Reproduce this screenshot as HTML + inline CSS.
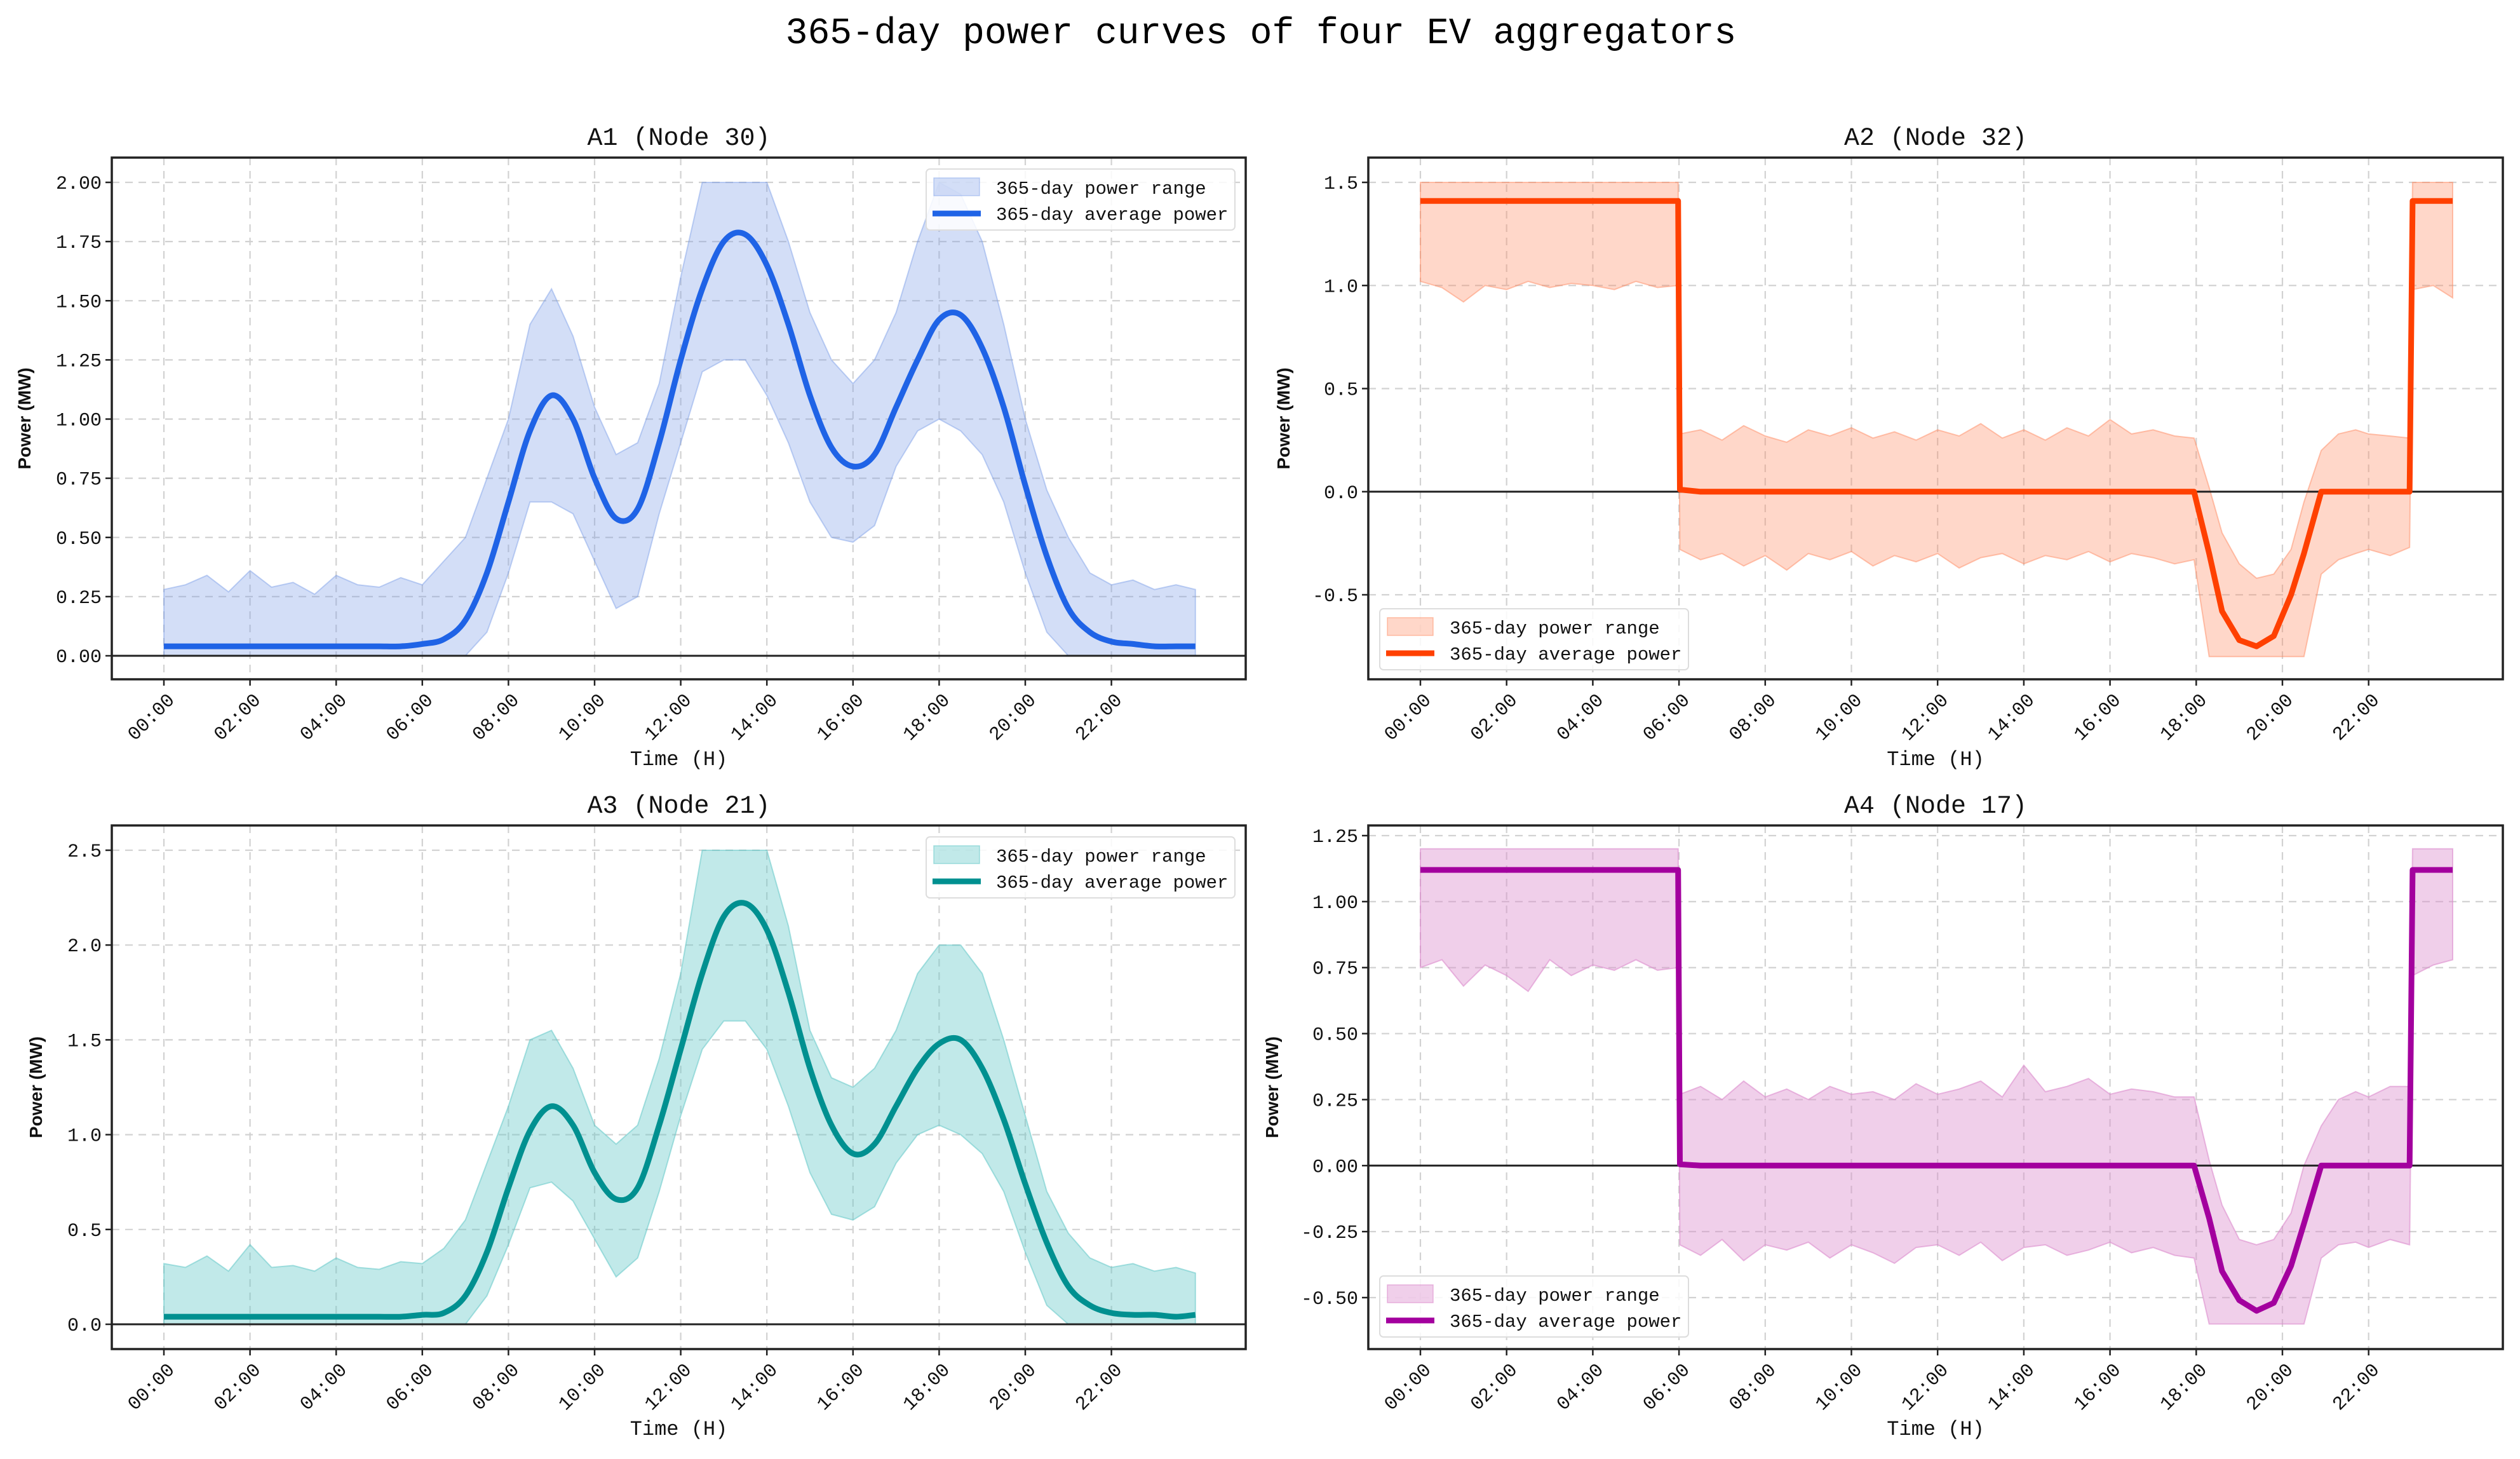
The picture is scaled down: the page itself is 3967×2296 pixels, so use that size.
<!DOCTYPE html>
<html><head><meta charset="utf-8"><style>
html,body{margin:0;padding:0;background:#fff;}
svg{display:block;}
</style></head><body>
<svg id="fig" width="3967" height="2296" viewBox="0 0 3967 2296" xmlns="http://www.w3.org/2000/svg">
<rect width="3967" height="2296" fill="#fff"/>
<text x="1985" y="68" text-anchor="middle" font-family="Liberation Mono, monospace" font-size="58" fill="#000">365-day power curves of four EV aggregators</text>
</svg>
<script>
// ---------- data ----------
const hoursSmooth = [0,0.5,1,1.5,2,2.5,3,3.5,4,4.5,5,5.5,6,6.5,7,7.5,8,8.5,9,9.5,10,10.5,11,11.5,12,12.5,13,13.5,14,14.5,15,15.5,16,16.5,17,17.5,18,18.5,19,19.5,20,20.5,21,21.5,22,22.5,23,23.5,23.95];
const a1Mean = [0.04,0.04,0.04,0.04,0.04,0.04,0.04,0.04,0.04,0.04,0.04,0.04,0.05,0.07,0.15,0.35,0.65,0.95,1.10,1.00,0.75,0.58,0.62,0.90,1.25,1.55,1.75,1.78,1.65,1.40,1.10,0.88,0.80,0.85,1.05,1.25,1.42,1.44,1.30,1.05,0.72,0.42,0.20,0.10,0.06,0.05,0.04,0.04,0.04];
const a1Upper = [0.28,0.30,0.34,0.27,0.36,0.29,0.31,0.26,0.34,0.30,0.29,0.33,0.30,0.40,0.50,0.75,1.00,1.40,1.55,1.35,1.05,0.85,0.90,1.15,1.60,2.00,2.00,2.00,2.00,1.75,1.45,1.25,1.15,1.25,1.45,1.75,2.00,1.95,1.75,1.40,1.00,0.70,0.50,0.35,0.30,0.32,0.28,0.30,0.28];
const a1Lower = [0,0,0,0,0,0,0,0,0,0,0,0,0,0,0,0.10,0.35,0.65,0.65,0.60,0.40,0.20,0.25,0.60,0.90,1.20,1.25,1.25,1.10,0.90,0.65,0.50,0.48,0.55,0.80,0.95,1.00,0.95,0.85,0.65,0.35,0.10,0,0,0,0,0,0,0];
const a3Mean = [0.04,0.04,0.04,0.04,0.04,0.04,0.04,0.04,0.04,0.04,0.04,0.04,0.05,0.06,0.15,0.38,0.72,1.02,1.15,1.05,0.80,0.66,0.72,1.05,1.45,1.85,2.15,2.22,2.08,1.75,1.35,1.05,0.90,0.95,1.15,1.35,1.48,1.50,1.35,1.08,0.74,0.43,0.20,0.10,0.06,0.05,0.05,0.04,0.05];
const a3Upper = [0.32,0.30,0.36,0.28,0.42,0.30,0.31,0.28,0.35,0.30,0.29,0.33,0.32,0.40,0.55,0.85,1.15,1.50,1.55,1.35,1.05,0.95,1.05,1.40,1.85,2.50,2.50,2.50,2.50,2.10,1.55,1.30,1.25,1.35,1.55,1.85,2.00,2.00,1.85,1.50,1.10,0.70,0.48,0.35,0.30,0.32,0.28,0.30,0.27];
const a3Lower = [0,0,0,0,0,0,0,0,0,0,0,0,0,0,0,0.15,0.42,0.72,0.75,0.65,0.45,0.25,0.35,0.70,1.10,1.45,1.60,1.60,1.45,1.15,0.80,0.58,0.55,0.62,0.85,1.00,1.05,1.00,0.90,0.70,0.38,0.10,0,0,0,0,0,0,0];

const hoursStep = [0,0.5,1,1.5,2,2.5,3,3.5,4,4.5,5,5.5,5.98,6.02,6.5,7,7.5,8,8.5,9,9.5,10,10.5,11,11.5,12,12.5,13,13.5,14,14.5,15,15.5,16,16.5,17,17.5,17.95,18.3,18.6,19,19.4,19.8,20.2,20.5,20.9,21.3,21.7,22,22.5,22.95,23.02,23.5,23.95];
const a2Mean = [1.41,1.41,1.41,1.41,1.41,1.41,1.41,1.41,1.41,1.41,1.41,1.41,1.41,0.01,0.0,0.0,0.0,0.0,0.0,0.0,0.0,0.0,0.0,0.0,0.0,0.0,0.0,0.0,0.0,0.0,0.0,0.0,0.0,0.0,0.0,0.0,0.0,0.0,-0.30,-0.58,-0.72,-0.75,-0.70,-0.50,-0.30,0.0,0.0,0.0,0.0,0.0,0.0,1.41,1.41,1.41];
const a2Upper = [1.5,1.5,1.5,1.5,1.5,1.5,1.5,1.5,1.5,1.5,1.5,1.5,1.5,0.28,0.30,0.25,0.32,0.27,0.24,0.30,0.27,0.31,0.26,0.29,0.25,0.30,0.27,0.33,0.26,0.30,0.25,0.31,0.27,0.35,0.28,0.30,0.27,0.26,0.02,-0.20,-0.35,-0.42,-0.40,-0.28,-0.05,0.20,0.28,0.30,0.28,0.27,0.26,1.5,1.5,1.5];
const a2Lower = [1.02,0.99,0.92,1.00,0.98,1.02,0.99,1.01,1.00,0.98,1.02,0.99,1.00,-0.28,-0.33,-0.30,-0.36,-0.31,-0.38,-0.30,-0.33,-0.29,-0.36,-0.31,-0.34,-0.30,-0.37,-0.32,-0.30,-0.35,-0.31,-0.33,-0.29,-0.34,-0.30,-0.32,-0.35,-0.33,-0.80,-0.80,-0.80,-0.80,-0.80,-0.80,-0.80,-0.40,-0.33,-0.30,-0.28,-0.31,-0.27,0.98,1.00,0.94];
const a4Mean = [1.12,1.12,1.12,1.12,1.12,1.12,1.12,1.12,1.12,1.12,1.12,1.12,1.12,0.005,0.0,0.0,0.0,0.0,0.0,0.0,0.0,0.0,0.0,0.0,0.0,0.0,0.0,0.0,0.0,0.0,0.0,0.0,0.0,0.0,0.0,0.0,0.0,0.0,-0.20,-0.40,-0.51,-0.55,-0.52,-0.38,-0.22,0.0,0.0,0.0,0.0,0.0,0.0,1.12,1.12,1.12];
const a4Upper = [1.2,1.2,1.2,1.2,1.2,1.2,1.2,1.2,1.2,1.2,1.2,1.2,1.2,0.27,0.30,0.25,0.32,0.26,0.29,0.25,0.30,0.27,0.28,0.25,0.31,0.27,0.29,0.32,0.26,0.38,0.28,0.30,0.33,0.27,0.29,0.28,0.26,0.26,0.02,-0.15,-0.28,-0.30,-0.28,-0.18,0.0,0.15,0.25,0.28,0.26,0.30,0.30,1.2,1.2,1.2];
const a4Lower = [0.75,0.78,0.68,0.76,0.72,0.66,0.78,0.72,0.76,0.74,0.78,0.74,0.75,-0.30,-0.34,-0.28,-0.36,-0.30,-0.32,-0.29,-0.35,-0.30,-0.33,-0.37,-0.31,-0.30,-0.34,-0.29,-0.36,-0.31,-0.30,-0.34,-0.32,-0.29,-0.33,-0.31,-0.34,-0.35,-0.60,-0.60,-0.60,-0.60,-0.60,-0.60,-0.60,-0.35,-0.30,-0.29,-0.31,-0.28,-0.30,0.72,0.76,0.78];

const xTickHours = [0,2,4,6,8,10,12,14,16,18,20,22];
const xTickLabels = ["00:00","02:00","04:00","06:00","08:00","10:00","12:00","14:00","16:00","18:00","20:00","22:00"];
const a1YTicks = [0,0.25,0.5,0.75,1.0,1.25,1.5,1.75,2.0];
const a1YLabels = ["0.00","0.25","0.50","0.75","1.00","1.25","1.50","1.75","2.00"];
const a2YTicks = [-0.5,0,0.5,1.0,1.5];
const a2YLabels = ["-0.5","0.0","0.5","1.0","1.5"];
const a3YTicks = [0,0.5,1.0,1.5,2.0,2.5];
const a3YLabels = ["0.0","0.5","1.0","1.5","2.0","2.5"];
const a4YTicks = [-0.5,-0.25,0,0.25,0.5,0.75,1.0,1.25];
const a4YLabels = ["-0.50","-0.25","0.00","0.25","0.50","0.75","1.00","1.25"];

// ---------- drawing ----------
const NS = "http://www.w3.org/2000/svg";
const svg = document.getElementById("fig");
function mk(tag, attrs, parent){
  const e = document.createElementNS(NS, tag);
  for (const k in attrs) e.setAttribute(k, attrs[k]);
  (parent||svg).appendChild(e);
  return e;
}
const FONT = "Liberation Mono, monospace";

function pathFrom(pts, smooth, start){
  let d = start ? "M" : "L";
  d += pts[0][0].toFixed(1)+","+pts[0][1].toFixed(1);
  for (let i=1;i<pts.length;i++){
    if (smooth){
      const p0=pts[Math.max(0,i-2)], p1=pts[i-1], p2=pts[i], p3=pts[Math.min(pts.length-1,i+1)];
      const c1x=p1[0]+(p2[0]-p0[0])/6, c1y=p1[1]+(p2[1]-p0[1])/6;
      const c2x=p2[0]-(p3[0]-p1[0])/6, c2y=p2[1]-(p3[1]-p1[1])/6;
      d += "C"+c1x.toFixed(1)+","+c1y.toFixed(1)+" "+c2x.toFixed(1)+","+c2y.toFixed(1)+" "+p2[0].toFixed(1)+","+p2[1].toFixed(1);
    } else d += "L"+pts[i][0].toFixed(1)+","+pts[i][1].toFixed(1);
  }
  return d;
}

function panel(cfg){
  const g = mk("g", {});
  
  
  const L=cfg.left, R=cfg.right, T=cfg.top, B=cfg.bottom;
  const X = h => cfg.h0x + h*cfg.hpx;
  const Y = v => cfg.y0 + (v - cfg.v0)*(cfg.y1 - cfg.y0)/(cfg.v1 - cfg.v0);

  xTickHours.forEach(h=>{
    const l = mk("line",{x1:X(h),x2:X(h),y1:T,y2:B,stroke:"#d2d2d2","stroke-width":2.2,"stroke-dasharray":"12,9"},g);
    
    
  });
  cfg.yTicks.forEach(v=>{
    const l = mk("line",{x1:L,x2:R,y1:Y(v),y2:Y(v),stroke:"#d2d2d2","stroke-width":2.2,"stroke-dasharray":"12,9"},g);
    
    
  });

  const up = cfg.hours.map((h,i)=>[X(h),Y(cfg.upper[i])]);
  const lo = cfg.hours.map((h,i)=>[X(h),Y(cfg.lower[i])]).reverse();
  const d = pathFrom(up,false,true) + pathFrom(lo,false,false) + "Z";
  const area = mk("path",{d:d,fill:cfg.fill,stroke:cfg.fillEdge,"stroke-width":2},g);
  
  

  const z = mk("line",{x1:L,x2:R,y1:Y(0),y2:Y(0),stroke:"#222","stroke-width":3},g);
  
  

  const mp = cfg.hours.map((h,i)=>[X(h),Y(cfg.mean[i])]);
  const line = mk("path",{d:pathFrom(mp,cfg.smooth,true),fill:"none",stroke:cfg.color,"stroke-width":9,"stroke-linejoin":"round"},g);
  
  

  const fr = mk("rect",{x:L,y:T,width:R-L,height:B-T,fill:"none",stroke:"#222","stroke-width":3.5},g);
  
  

  cfg.yTicks.forEach((v,i)=>{
    mk("line",{x1:L-10,x2:L,y1:Y(v),y2:Y(v),stroke:"#222","stroke-width":2.5},g);
    const t = mk("text",{x:L-16,y:Y(v)+10,"text-anchor":"end","font-family":FONT,"font-size":30,fill:"#111"},g);
    t.textContent = cfg.yLabels[i];
    
    
  });
  xTickHours.forEach((h,i)=>{
    mk("line",{x1:X(h),x2:X(h),y1:B,y2:B+10,stroke:"#222","stroke-width":2.5},g);
    const tx = X(h)+18, ty = B+34;
    const t = mk("text",{x:tx,y:ty,"text-anchor":"end","font-family":FONT,"font-size":30,fill:"#111",transform:"rotate(-45 "+tx+" "+ty+")"},g);
    t.textContent = xTickLabels[i];
    
    
  });
  const tt = mk("text",{x:(L+R)/2,y:T-20,"text-anchor":"middle","font-family":FONT,"font-size":40,fill:"#111"},g);
  tt.textContent = cfg.title;
  
  
  const xl = mk("text",{x:(L+R)/2,y:B+135,"text-anchor":"middle","font-family":FONT,"font-size":32,fill:"#111"},g);
  xl.textContent = "Time (H)";
  
  
  const yx = cfg.ylabX, yy=(T+B)/2;
  const yl = mk("text",{x:yx,y:yy,"text-anchor":"middle","font-family":"Liberation Sans, sans-serif","font-weight":"bold","font-size":28,fill:"#111",transform:"rotate(-90 "+yx+" "+yy+")"},g);
  yl.textContent = "Power  (MW)";
  
  

  const lg = mk("g",{},g);
  
  
  const lx=cfg.legX, ly=cfg.legY;
  mk("rect",{x:lx,y:ly,width:486,height:96,rx:6,fill:"#fff","fill-opacity":0.85,stroke:"#ddd","stroke-width":2},lg);
  mk("rect",{x:lx+12,y:ly+14,width:72,height:28,fill:cfg.fill,stroke:cfg.fillEdge,"stroke-width":1.5},lg);
  mk("line",{x1:lx+10,x2:lx+86,y1:ly+70,y2:ly+70,stroke:cfg.color,"stroke-width":9},lg);
  const e1 = mk("text",{x:lx+110,y:ly+39,"font-family":FONT,"font-size":29,fill:"#111"},lg);
  e1.textContent = "365-day power range";
  
  
  const e2 = mk("text",{x:lx+110,y:ly+80,"font-family":FONT,"font-size":29,fill:"#111"},lg);
  e2.textContent = "365-day average power";
  
  
}

panel({name:"panel-a1",title:"A1 (Node 30)",left:176,right:1961,top:248,bottom:1069,h0x:258,hpx:67.8,smooth:true,
  v0:0,y0:1032,v1:2.0,y1:287,yTicks:a1YTicks,yLabels:a1YLabels,hours:hoursSmooth,mean:a1Mean,upper:a1Upper,lower:a1Lower,
  color:"#1f63e6",fill:"rgba(120,155,230,0.33)",fillEdge:"rgba(120,155,230,0.45)",ylabX:48,legX:1458,legY:266});
panel({name:"panel-a2",title:"A2 (Node 32)",left:2154,right:3940,top:248,bottom:1069,h0x:2236,hpx:67.85,smooth:false,
  v0:-0.5,y0:936,v1:1.5,y1:287,yTicks:a2YTicks,yLabels:a2YLabels,hours:hoursStep,mean:a2Mean,upper:a2Upper,lower:a2Lower,
  color:"#ff4000",fill:"rgba(255,140,100,0.35)",fillEdge:"rgba(255,140,100,0.5)",ylabX:2030,legX:2172,legY:958});
panel({name:"panel-a3",title:"A3 (Node 21)",left:176,right:1961,top:1299,bottom:2123,h0x:258,hpx:67.8,smooth:true,
  v0:0,y0:2084,v1:2.5,y1:1338,yTicks:a3YTicks,yLabels:a3YLabels,hours:hoursSmooth,mean:a3Mean,upper:a3Upper,lower:a3Lower,
  color:"#009090",fill:"rgba(100,200,200,0.4)",fillEdge:"rgba(100,200,200,0.55)",ylabX:66,legX:1458,legY:1317});
panel({name:"panel-a4",title:"A4 (Node 17)",left:2154,right:3940,top:1299,bottom:2123,h0x:2236,hpx:67.85,smooth:false,
  v0:-0.5,y0:2042,v1:1.25,y1:1315,yTicks:a4YTicks,yLabels:a4YLabels,hours:hoursStep,mean:a4Mean,upper:a4Upper,lower:a4Lower,
  color:"#a3009e",fill:"rgba(220,140,205,0.42)",fillEdge:"rgba(220,140,205,0.6)",ylabX:2012,legX:2172,legY:2008});
</script>
</body></html>
